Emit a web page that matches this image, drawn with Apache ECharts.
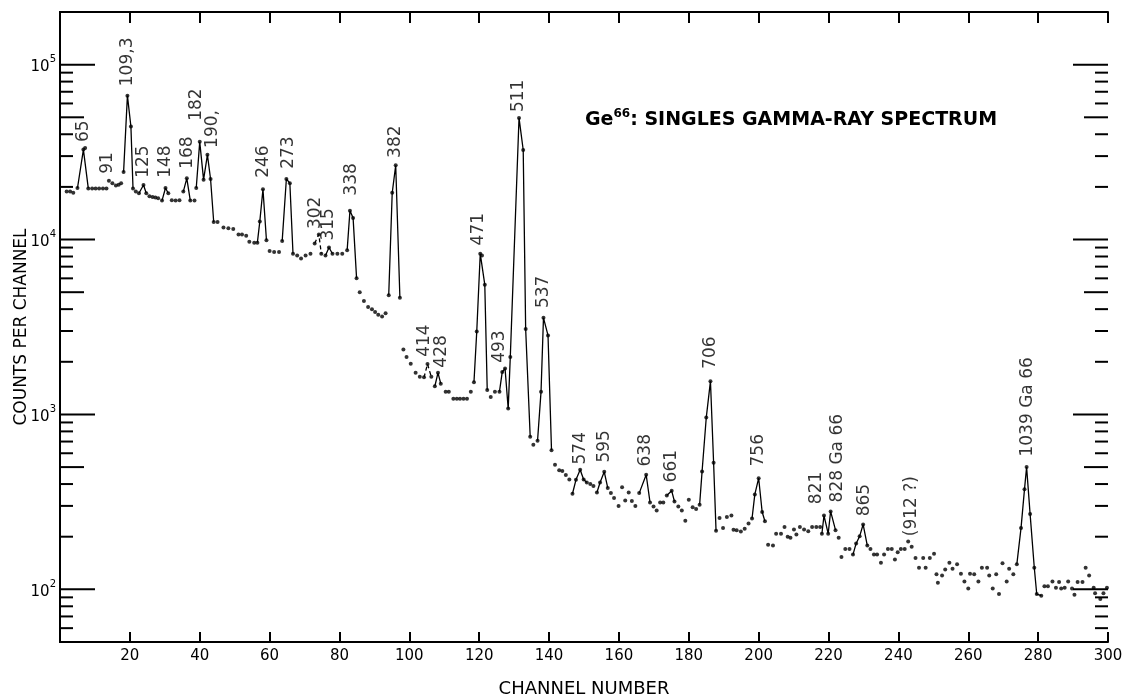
<!DOCTYPE html>
<html>
<head>
<meta charset="utf-8">
<title>Ge66 singles gamma-ray spectrum</title>
<script src="https://cdn.jsdelivr.net/npm/echarts@6/dist/echarts.min.js"></script>
<style>
  html, body { margin: 0; padding: 0; background: #fff; }
  #main { width: 1128px; height: 698px; }
</style>
</head>
<body>
<div id="main"></div>
<script>
// channel number of every plotted dot
const channels = [
  1.9, 2.9, 3.8, 5.0, 6.7, 7.2, 8.1, 9.2, 10.2, 11.2, 12.3, 13.3, 14.0, 15.0, 16.0, 16.8, 17.5, 18.2, 19.3, 20.3,
  20.9, 21.7, 22.6, 23.9, 24.7, 25.6, 26.5, 27.3, 28.1, 29.2, 30.2, 31.0, 32.0, 33.1, 34.2, 35.3, 36.3, 37.3, 38.5, 39.0,
  40.0, 41.1, 42.2, 43.1, 44.0, 45.1, 46.8, 48.2, 49.6, 51.1, 52.1, 53.3, 54.2, 55.6, 56.5, 57.2, 58.1, 59.1, 60.0, 61.3,
  62.7, 63.6, 64.8, 65.8, 66.7, 67.9, 69.0, 70.3, 71.7, 72.9, 74.1, 74.8, 76.0, 77.0, 78.0, 79.4, 80.8, 82.2, 83.0, 83.9,
  84.9, 85.8, 87.0, 88.2, 89.3, 90.2, 91.1, 92.2, 93.2, 94.1, 95.1, 96.1, 97.3, 98.3, 99.2, 100.4, 101.8, 103.0, 104.2, 105.2,
  106.3, 107.3, 108.2, 109.0, 110.4, 111.3, 112.6, 113.6, 114.5, 115.5, 116.5, 117.6, 118.5, 119.3, 120.3, 120.8, 121.6, 122.3, 123.3, 124.5,
  125.8, 126.6, 127.4, 128.3, 128.9, 131.4, 132.6, 133.3, 134.6, 135.5, 136.7, 137.7, 138.4, 139.7, 140.7, 141.7, 142.9, 143.8, 144.8, 145.8,
  146.7, 147.7, 148.9, 149.9, 150.8, 151.8, 152.7, 153.7, 154.6, 155.8, 156.8, 157.7, 158.6, 159.9, 160.9, 161.8, 162.8, 163.7, 164.7, 165.8,
  167.8, 168.9, 169.9, 170.8, 171.8, 172.7, 173.7, 175.1, 175.9, 177.0, 178.0, 179.0, 180.0, 181.1, 182.1, 183.1, 183.8, 185.0, 186.2, 187.1,
  187.8, 188.8, 189.8, 190.9, 192.2, 192.8, 193.7, 194.9, 196.0, 197.1, 198.1, 198.9, 200.0, 201.0, 201.8, 202.7, 204.1, 205.0, 206.4, 207.4,
  208.3, 209.1, 210.1, 210.8, 211.8, 213.0, 214.2, 215.3, 216.5, 217.6, 218.1, 218.7, 219.9, 220.6, 222.0, 222.9, 223.7, 224.8, 226.0, 227.0,
  227.9, 228.9, 229.9, 231.1, 232.0, 233.0, 233.9, 235.0, 235.9, 237.0, 238.1, 239.0, 239.8, 240.7, 241.8, 242.8, 243.8, 244.9, 245.9, 247.1,
  247.8, 249.0, 250.2, 250.9, 251.3, 252.5, 253.4, 254.6, 255.5, 256.8, 257.9, 258.9, 260.0, 260.5, 261.7, 262.9, 263.9, 265.4, 266.0, 267.0,
  268.0, 268.8, 269.8, 271.0, 271.7, 272.9, 273.9, 275.1, 276.1, 276.7, 277.7, 278.9, 279.6, 280.9, 281.8, 282.8, 284.1, 285.1, 286.0, 286.6,
  287.6, 288.6, 289.7, 290.4, 291.3, 292.7, 293.6, 294.6, 295.9, 296.3, 297.8, 298.7, 299.7
];

// counts per channel for each dot, same order as channels
const counts = [
  18800, 18800, 18500, 19700, 32700, 33400, 19600, 19600, 19600, 19600, 19600, 19600, 21700, 21000, 20400, 20600, 21000, 24300, 66500, 44300,
  19600, 18800, 18400, 20500, 18400, 17700, 17500, 17400, 17200, 16700, 19700, 18400, 16800, 16700, 16800, 18800, 22400, 16700, 16700, 19700,
  36200, 22000, 30500, 22200, 12600, 12600, 11700, 11600, 11500, 10700, 10700, 10500, 9700, 9600, 9600, 12700, 19400, 9900, 8600, 8500,
  8500, 9800, 22200, 21000, 8300, 8100, 7800, 8100, 8300, 9500, 10700, 8300, 8100, 9000, 8300, 8300, 8300, 8700, 14600, 13300,
  6000, 5000, 4460, 4120, 4000, 3850, 3720, 3630, 3790, 4800, 18500, 26600, 4650, 2350, 2130, 1950, 1730, 1640, 1630, 1940,
  1640, 1450, 1730, 1500, 1350, 1350, 1230, 1230, 1230, 1230, 1230, 1350, 1530, 2980, 8300, 8100, 5520, 1380, 1260, 1350,
  1350, 1750, 1830, 1080, 2130, 49600, 32500, 3080, 745, 670, 708, 1350, 3570, 2830, 625, 515, 480, 475, 450, 425,
  352, 423, 483, 425, 408, 400, 390, 358, 408, 470, 380, 355, 333, 300, 384, 322, 358, 320, 300, 355,
  452, 314, 298, 282, 314, 314, 344, 366, 318, 298, 282, 247, 325, 295, 288, 305, 472, 960, 1550, 530,
  216, 256, 224, 259, 264, 219, 218, 214, 222, 238, 254, 349, 432, 277, 245, 180, 178, 208, 208, 227,
  200, 197, 220, 206, 227, 220, 215, 227, 227, 227, 208, 264, 208, 279, 218, 197, 153, 170, 170, 158,
  183, 201, 235, 178, 170, 158, 158, 142, 158, 170, 170, 148, 163, 170, 170, 188, 175, 151, 133, 151,
  133, 151, 160, 122, 109, 120, 130, 142, 131, 139, 123, 111, 101, 123, 122, 111, 133, 133, 120, 101,
  122, 94, 141, 111, 131, 122, 139, 224, 374, 500, 270, 133, 94, 92, 104, 104, 111, 102, 110, 101,
  102, 111, 101, 93, 110, 110, 133, 120, 102, 95, 88, 95, 102
];

// channel spans drawn with a connecting line (peaks)
const peakRanges = [
  [5.0, 8.1], [18.2, 20.9], [22.6, 24.7], [29.2, 31.0], [35.3, 37.3], [39.0, 44.0], [56.5, 59.1], [63.6, 66.7],
  [76.0, 78.0], [82.2, 84.9], [94.1, 97.3], [107.3, 109.0], [118.5, 122.3], [125.8, 134.6], [136.7, 140.7],
  [146.7, 150.8], [153.7, 156.8], [165.8, 168.9], [173.7, 175.9], [183.1, 187.8], [198.1, 201.8], [218.1, 222.0],
  [227.0, 231.1], [273.9, 280.9]
];
const dashedRanges = [[72.9, 74.8], [104.2, 106.3]];

// peak labels (keV) and where the foot of each label sits
const peakLabels = ['65', '91', '109,3', '125', '148', '168', '182', '190,', '246', '273', '302', '315', '338', '382',
  '414', '428', '471', '493', '511', '537', '574', '595', '638', '661', '706', '756', '821', '828 Ga 66', '865',
  '(912 ?)', '1039 Ga 66'];
const labelChannels = [6.9, 13.8, 19.4, 24.1, 30.4, 36.6, 39.2, 43.9, 58.5, 65.7, 73.4, 77.1, 83.5, 96.1,
  104.4, 109.5, 119.9, 125.9, 131.3, 138.5, 149.1, 156.0, 167.8, 175.2, 186.4, 200.0, 216.8, 222.8, 230.6,
  243.8, 277.0];
const labelCounts = [35900, 23600, 74800, 22400, 22400, 25200, 47400, 33200, 22400, 25200, 11400, 9800, 17700, 29100,
  2120, 1840, 9200, 1960, 53200, 4030, 514, 527, 501, 406, 1810, 501, 305, 312, 260,
  200, 571];

// y axis tick values
const yMajorTicks = [100, 1000, 10000, 100000];
const yMidTicks = [500, 5000, 50000];
const yMinorTicks = [60, 70, 80, 90, 200, 300, 400, 600, 700, 800, 900, 2000, 3000, 4000, 6000, 7000, 8000, 9000,
  20000, 30000, 40000, 60000, 70000, 80000, 90000];

const FONT = 'DejaVu Sans';
const points = channels.map((c, i) => [c, counts[i]]);

function lineSeries(range, dashed) {
  return {
    type: 'line',
    data: points.filter(p => p[0] >= range[0] - 0.01 && p[0] <= range[1] + 0.01),
    showSymbol: false,
    symbol: 'none',
    lineStyle: { color: '#000', width: 1.3, type: dashed ? [4, 3] : 'solid' },
    silent: true,
    z: 2
  };
}

const tickData = [];
yMajorTicks.forEach(v => tickData.push([0, v, 35]));
yMidTicks.forEach(v => tickData.push([0, v, 24]));
yMinorTicks.forEach(v => tickData.push([0, v, 13]));

const chart = echarts.init(document.getElementById('main'), null, { renderer: 'canvas' });

const option = {
  backgroundColor: '#fff',
  animation: false,
  textStyle: { fontFamily: FONT, color: '#000' },
  title: {
    text: 'Ge{s|66}: SINGLES GAMMA-RAY SPECTRUM',
    left: 580,
    top: 103,
    textStyle: {
      fontFamily: FONT, fontSize: 19, fontWeight: 'bold', color: '#000',
      rich: {
        s: { fontFamily: FONT, fontSize: 12, fontWeight: 'bold', color: '#000', verticalAlign: 'top', lineHeight: 24 }
      }
    }
  },
  grid: { left: 60, right: 20, top: 12, bottom: 56, outerBoundsMode: 'none', containLabel: false },
  xAxis: [{
    type: 'value', min: 0, max: 300, interval: 20,
    name: 'CHANNEL NUMBER', nameLocation: 'middle', nameGap: 38, nameMoveOverlap: false,
    nameTextStyle: { fontFamily: FONT, fontSize: 18, color: '#000' },
    axisLine: { lineStyle: { color: '#000', width: 2 } },
    axisTick: { inside: true, length: 10, lineStyle: { color: '#000', width: 2 } },
    axisLabel: { color: '#000', fontFamily: FONT, fontSize: 15, margin: 7, formatter: v => v === 0 ? '' : String(v) },
    splitLine: { show: false }
  }, {
    type: 'value', min: 0, max: 300, interval: 20, position: 'top',
    axisLine: { show: true, lineStyle: { color: '#000', width: 2 } },
    axisTick: { inside: true, length: 11, lineStyle: { color: '#000', width: 2 } },
    axisLabel: { show: false },
    splitLine: { show: false }
  }],
  yAxis: [{
    type: 'log', logBase: 10, min: 50, max: 200000,
    name: 'COUNTS PER CHANNEL', nameLocation: 'middle', nameGap: 30, nameRotate: 90, nameMoveOverlap: false,
    nameTextStyle: { fontFamily: FONT, fontSize: 17, color: '#000' },
    axisLine: { show: true, lineStyle: { color: '#000', width: 2 } },
    axisTick: { show: false },
    axisLabel: {
      color: '#000', margin: 4,
      formatter: v => {
        const e = Math.log10(v);
        if (Math.abs(e - Math.round(e)) > 1e-6) return '';
        return '{b|10}{s|' + Math.round(e) + '}';
      },
      rich: {
        b: { fontFamily: FONT, fontSize: 15, color: '#000', verticalAlign: 'bottom', lineHeight: 20 },
        s: { fontFamily: FONT, fontSize: 10, color: '#000', verticalAlign: 'top', lineHeight: 20 }
      }
    },
    splitLine: { show: false }
  }, {
    type: 'log', logBase: 10, min: 50, max: 200000, position: 'right',
    axisLine: { show: true, lineStyle: { color: '#000', width: 2 } },
    axisTick: { show: false },
    axisLabel: { show: false },
    splitLine: { show: false }
  }],
  series: [
    {
      type: 'scatter',
      data: points,
      symbol: 'circle',
      symbolSize: 4,
      itemStyle: { color: '#000' },
      silent: true,
      z: 3
    },
    ...peakRanges.map(r => lineSeries(r, false)),
    ...dashedRanges.map(r => lineSeries(r, true)),
    {
      type: 'scatter',
      data: peakLabels.map((t, i) => ({ name: t, value: [labelChannels[i], labelCounts[i]] })),
      symbolSize: 1,
      itemStyle: { color: 'rgba(0,0,0,0)' },
      label: {
        show: true, formatter: '{b}', rotate: 90, position: [0, 0],
        align: 'left', verticalAlign: 'middle',
        fontFamily: FONT, fontSize: 17, color: '#000'
      },
      silent: true,
      z: 4
    },
    {
      type: 'custom',
      data: tickData,
      clip: false,
      silent: true,
      z: 5,
      renderItem: (params, api) => {
        const l = api.coord([0, api.value(1)]);
        const r = api.coord([300, api.value(1)]);
        const len = api.value(2);
        return {
          type: 'group',
          children: [
            { type: 'line', shape: { x1: l[0], y1: l[1], x2: l[0] + len, y2: l[1] }, style: { stroke: '#000', lineWidth: 2 } },
            { type: 'line', shape: { x1: r[0], y1: r[1], x2: r[0] - len, y2: r[1] }, style: { stroke: '#000', lineWidth: 2 } }
          ]
        };
      }
    }
  ]
};

chart.setOption(option);
</script>
</body>
</html>
